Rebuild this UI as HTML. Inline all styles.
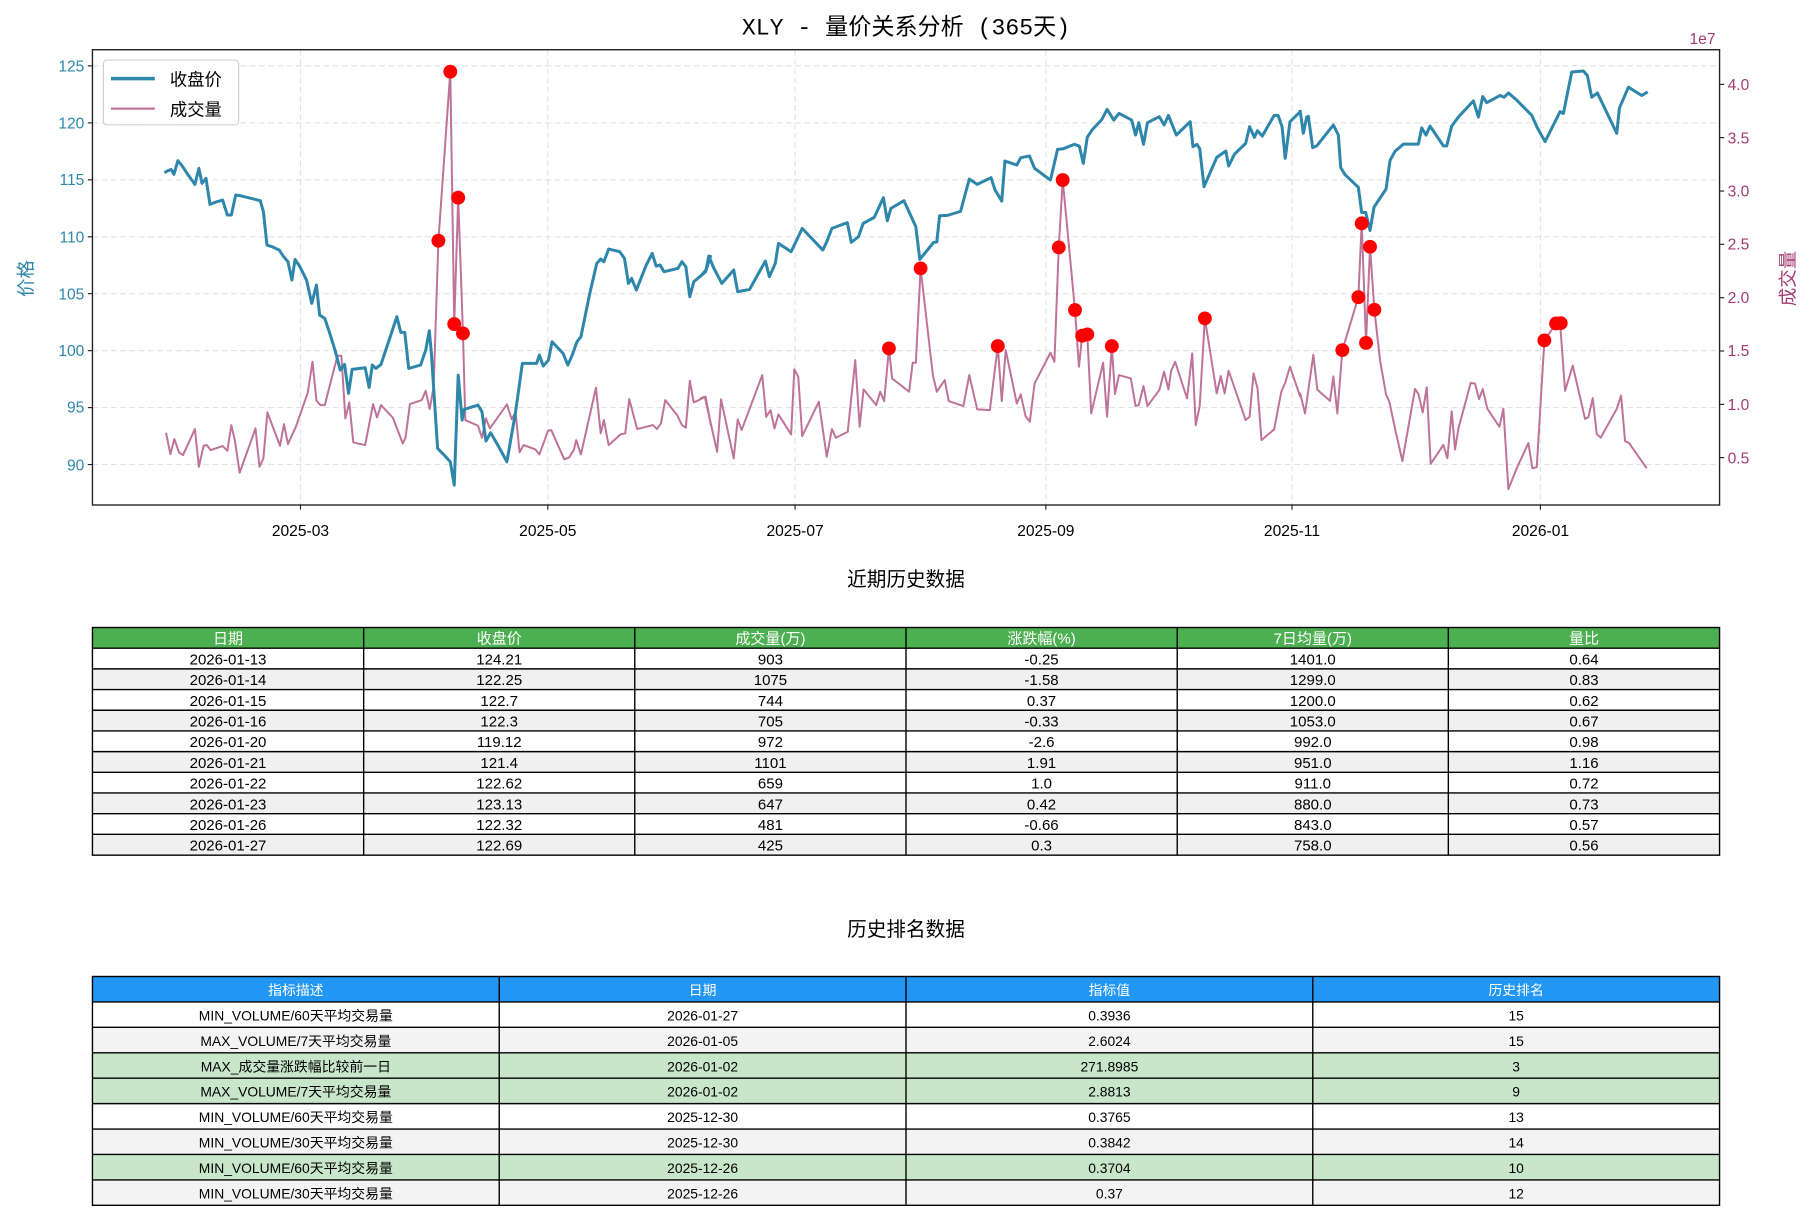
<!DOCTYPE html>
<html><head><meta charset="utf-8"><style>
html,body{margin:0;padding:0;background:#fff;}
svg{display:block;}
text{font-family:"Liberation Sans","Noto Sans CJK SC",sans-serif;}
.m{font-family:"Liberation Mono","Noto Sans CJK SC",monospace;}
</style></head><body>
<svg width="1812" height="1220" viewBox="0 0 1568 1055.7" xmlns="http://www.w3.org/2000/svg">
<rect width="1568" height="1056" fill="#fff"/>
<text x="784" y="30" font-size="20" text-anchor="middle" class="m">XLY - 量价关系分析 (365天)</text>
<!-- grid -->
<g stroke="#e3e3e3" stroke-width="1" stroke-dasharray="5,3">
<line x1="80" x2="1488" y1="57" y2="57"/><line x1="80" x2="1488" y1="106.3" y2="106.3"/><line x1="80" x2="1488" y1="155.6" y2="155.6"/><line x1="80" x2="1488" y1="204.9" y2="204.9"/><line x1="80" x2="1488" y1="254.1" y2="254.1"/><line x1="80" x2="1488" y1="303.4" y2="303.4"/><line x1="80" x2="1488" y1="352.7" y2="352.7"/><line x1="80" x2="1488" y1="402" y2="402"/>
<line y1="43" y2="437" x1="260" x2="260"/><line y1="43" y2="437" x1="474" x2="474"/><line y1="43" y2="437" x1="688" x2="688"/><line y1="43" y2="437" x1="905" x2="905"/><line y1="43" y2="437" x1="1118" x2="1118"/><line y1="43" y2="437" x1="1333" x2="1333"/>
</g>
<!-- volume -->
<g fill="none" stroke="#be7399" stroke-width="2" stroke-linejoin="round">
<g transform="translate(77.88,43.27) scale(0.3426,0.2885)"><polyline vector-effect="non-scaling-stroke" points="192,1148 203,1212 213,1167 225,1207 235,1215 265,1137 275,1250 287,1187 295,1185 305,1200 335,1188 347,1202 357,1125 366,1172 378,1268 418,1135 428,1250 438,1225 448,1087 480,1187 490,1122 500,1182 520,1130 550,1028 562,935 572,1052 582,1065 593,1065 625,917 635,917 645,1105 655,1057 665,1177 695,1185 715,1062 725,1102 735,1065 765,1103 790,1180 797,1163 808,1062 838,1050 848,1022 858,1077 868,1010 880,572 910,65 920,822 930,443 942,850 948,1110 980,1127 990,1163 1000,1105 1010,1135 1053,1063 1065,1107 1075,1087 1085,1207 1095,1185 1125,1198 1135,1213 1157,1142 1165,1140 1198,1228 1210,1222 1222,1200 1228,1170 1240,1213 1278,1013 1290,1150 1298,1110 1310,1185 1340,1153 1352,1150 1362,1047 1382,1137 1422,1125 1432,1137 1442,1120 1453,1050 1483,1095 1495,1125 1505,1133 1515,992 1525,1057 1555,1040 1568,1125"/></g>
<g transform="translate(605.8,43.27) scale(0.3426,0.2885)"><polyline vector-effect="non-scaling-stroke" points="0,1045 12,1040 43,1205 53,1048 85,1225 95,1108 105,1140 157,975 167,1100 178,1080 188,1135 198,1093 230,1153 238,958 248,980 258,1158 300,1055 320,1220 333,1137 343,1163 373,1145 392,930 403,1130 413,1018 445,1065 455,1025 465,1053 477,895 485,985 528,1025 537,938 545,938 557,655 588,975 598,1025 618,990 628,1053 665,1068 680,975 700,1078 732,1080 752,888 762,1053 772,900 800,1060 810,1033 822,1098 833,1115 845,1000 885,908 895,935 906,592 916,390 947,780 957,950 965,857 978,853 988,1090 1018,938 1028,1100 1040,888 1048,1032 1058,975 1088,985 1100,1068 1108,1065 1120,1008 1130,1068 1160,1020 1172,965 1183,1018 1190,962 1200,935 1230,1045 1243,910 1252,1125 1262,1068 1275,805 1305,1030 1315,978 1325,1030 1335,962 1378,1110 1388,1100 1398,970 1408,1015 1418,1170 1450,1138 1468,1025 1478,998 1490,950 1516,1040"/></g>
<g transform="translate(1124.96,0) scale(0.2885,0.3117)"><polyline vector-effect="non-scaling-stroke" points="0,1090 15,1148 40,985 52,1082 90,1113 100,1045 112,1148 127,972 175,825 185,620 198,952 210,685 223,860 240,1000 258,1095 268,1115 285,1190 307,1280 345,1080 355,1093 368,1145 380,1075 392,1288 430,1235 442,1272 455,1142 465,1248 475,1190 512,1063 525,1065 537,1108 548,1080 562,1135 598,1185 610,1135 625,1358 650,1300 685,1230 697,1300 710,1297 733,945 768,898 780,897 795,1085 818,1015 855,1163 865,1158 878,1105 890,1205 902,1215 950,1135 963,1098 975,1225 987,1230 1040,1300"/></g>
</g>
<!-- price -->
<g fill="none" stroke="#2E86AB" stroke-width="3" stroke-linejoin="round">
<g transform="translate(77.88,43.27) scale(0.3426,0.2885)"><polyline vector-effect="non-scaling-stroke" points="188,368 197,362 205,358 212,373 222,332 233,348 248,375 265,403 275,355 283,400 293,385 303,463 318,456 335,450 347,495 357,495 368,435 380,437 430,452 438,485 447,585 460,590 478,600 488,618 500,635 510,690 518,628 530,650 547,690 560,760 572,705 580,795 593,805 607,855 620,905 632,960 643,943 653,1030 662,958 695,953 705,1012 713,945 722,955 735,943 757,865 775,800 785,847 795,847 805,955 835,945 848,900 857,842 862,905 878,1195 897,1218 910,1235 920,1305 930,975 940,1110 945,1078 980,1065 990,1085 1000,1173 1012,1148 1030,1185 1053,1235 1075,1085 1092,940 1128,940 1135,915 1145,948 1158,930 1167,875 1195,910 1207,945 1218,915 1230,875 1240,860 1262,732 1280,640 1290,627 1298,635 1310,597 1338,605 1350,625 1360,700 1368,685 1380,720 1405,645 1420,610 1430,648 1440,645 1450,665 1485,655 1495,635 1505,650 1515,740 1525,695 1555,665 1568,615"/></g>
<g transform="translate(605.8,43.27) scale(0.3426,0.2885)"><polyline vector-effect="non-scaling-stroke" points="0,680 15,660 22,618 35,655 55,700 85,660 95,725 125,718 165,633 175,680 190,640 198,580 230,605 258,535 310,600 320,575 333,535 372,518 382,577 400,560 412,520 440,502 463,443 473,512 482,475 515,452 545,530 555,628 590,577 598,576 605,497 625,496 658,484 680,387 700,403 735,383 745,420 762,453 770,333 800,345 810,323 832,318 845,355 885,390 903,298 918,296 945,283 958,288 968,340 978,262 990,240 1015,208 1028,178 1045,210 1058,190 1090,210 1100,255 1108,218 1120,283 1130,218 1160,200 1172,225 1183,196 1203,255 1238,215 1245,290 1255,283 1262,296 1273,410 1305,322 1328,303 1335,348 1350,312 1378,280 1388,230 1400,262 1408,242 1420,258 1450,196 1460,196 1470,230 1478,325 1490,215 1516,185"/></g>
<g transform="translate(1124.96,0) scale(0.2885,0.3117)"><polyline vector-effect="non-scaling-stroke" points="0,305 10,370 20,325 25,323 38,410 50,405 100,347 115,375 122,465 135,485 175,520 185,590 197,590 210,640 222,575 258,525 270,445 285,420 310,400 355,400 365,355 378,375 390,350 430,405 440,405 455,350 475,325 520,280 535,325 548,268 560,285 600,265 612,270 625,258 650,278 695,320 712,355 735,393 780,310 790,315 815,200 850,197 862,210 875,270 892,258 950,370 958,300 985,242 1025,265 1043,255"/></g>
</g>
<!-- red dots -->
<g fill="#ff0000">
<g transform="translate(77.88,43.27) scale(0.3426,0.2885)">
<ellipse cx="880" cy="572" rx="17.5" ry="20.8"/><ellipse cx="910" cy="65" rx="17.5" ry="20.8"/><ellipse cx="920" cy="822" rx="17.5" ry="20.8"/><ellipse cx="930" cy="443" rx="17.5" ry="20.8"/><ellipse cx="942" cy="850" rx="17.5" ry="20.8"/></g>
<g transform="translate(605.8,43.27) scale(0.3426,0.2885)">
<ellipse cx="477" cy="895" rx="17.5" ry="20.8"/><ellipse cx="557" cy="655" rx="17.5" ry="20.8"/><ellipse cx="752" cy="888" rx="17.5" ry="20.8"/><ellipse cx="906" cy="592" rx="17.5" ry="20.8"/><ellipse cx="916" cy="390" rx="17.5" ry="20.8"/><ellipse cx="947" cy="780" rx="17.5" ry="20.8"/><ellipse cx="965" cy="857" rx="17.5" ry="20.8"/><ellipse cx="978" cy="853" rx="17.5" ry="20.8"/><ellipse cx="1040" cy="888" rx="17.5" ry="20.8"/><ellipse cx="1275" cy="805" rx="17.5" ry="20.8"/></g>
<g transform="translate(1124.96,0) scale(0.2885,0.3117)">
<ellipse cx="127" cy="972" rx="20.8" ry="19.2"/><ellipse cx="175" cy="825" rx="20.8" ry="19.2"/><ellipse cx="185" cy="620" rx="20.8" ry="19.2"/><ellipse cx="198" cy="952" rx="20.8" ry="19.2"/><ellipse cx="210" cy="685" rx="20.8" ry="19.2"/><ellipse cx="223" cy="860" rx="20.8" ry="19.2"/><ellipse cx="733" cy="945" rx="20.8" ry="19.2"/><ellipse cx="768" cy="898" rx="20.8" ry="19.2"/><ellipse cx="782" cy="897" rx="20.8" ry="19.2"/></g>
</g>
<!-- axes frame -->
<rect x="80" y="43" width="1408" height="394" fill="none" stroke="#222" stroke-width="1.2"/>
<!-- left ticks -->
<g stroke="#222" stroke-width="1"><line x1="76" x2="80" y1="57" y2="57"/><line x1="76" x2="80" y1="106.3" y2="106.3"/><line x1="76" x2="80" y1="155.6" y2="155.6"/><line x1="76" x2="80" y1="204.9" y2="204.9"/><line x1="76" x2="80" y1="254.1" y2="254.1"/><line x1="76" x2="80" y1="303.4" y2="303.4"/><line x1="76" x2="80" y1="352.7" y2="352.7"/><line x1="76" x2="80" y1="402" y2="402"/>
<line x1="1488" x2="1492" y1="73" y2="73"/><line x1="1488" x2="1492" y1="119.1" y2="119.1"/><line x1="1488" x2="1492" y1="165.3" y2="165.3"/><line x1="1488" x2="1492" y1="211.4" y2="211.4"/><line x1="1488" x2="1492" y1="257.6" y2="257.6"/><line x1="1488" x2="1492" y1="303.7" y2="303.7"/><line x1="1488" x2="1492" y1="349.9" y2="349.9"/><line x1="1488" x2="1492" y1="396" y2="396"/>
<line y1="437" y2="441" x1="260" x2="260"/><line y1="437" y2="441" x1="474" x2="474"/><line y1="437" y2="441" x1="688" x2="688"/><line y1="437" y2="441" x1="905" x2="905"/><line y1="437" y2="441" x1="1118" x2="1118"/><line y1="437" y2="441" x1="1333" x2="1333"/></g>
<g font-size="13.5" fill="#2E86AB" text-anchor="end">
<text x="73" y="62">125</text><text x="73" y="111">120</text><text x="73" y="160">115</text><text x="73" y="210">110</text><text x="73" y="259">105</text><text x="73" y="308">100</text><text x="73" y="357">95</text><text x="73" y="407">90</text></g>
<g font-size="13.5" fill="#A23B72" class="m">
<text x="1495" y="78">4.0</text><text x="1495" y="124">3.5</text><text x="1495" y="170">3.0</text><text x="1495" y="216">2.5</text><text x="1495" y="262">2.0</text><text x="1495" y="308">1.5</text><text x="1495" y="355">1.0</text><text x="1495" y="401">0.5</text>
<text x="1462" y="38">1e7</text></g>
<g font-size="13.5" fill="#000" text-anchor="middle" class="m">
<text x="260" y="464">2025-03</text><text x="474" y="464">2025-05</text><text x="688" y="464">2025-07</text><text x="905" y="464">2025-09</text><text x="1118" y="464">2025-11</text><text x="1333" y="464">2026-01</text></g>
<text transform="translate(28,241) rotate(-90)" font-size="16" fill="#2E86AB" text-anchor="middle">价格</text>
<text transform="translate(1553,241) rotate(-90)" font-size="16" fill="#A23B72" text-anchor="middle">成交量</text>
<!-- legend -->
<rect x="89.5" y="52" width="117" height="56" rx="3" fill="#fff" fill-opacity="0.85" stroke="#d0d0d0"/>
<line x1="96" x2="134" y1="68" y2="68" stroke="#2E86AB" stroke-width="3"/>
<line x1="96" x2="134" y1="94" y2="94" stroke="#be7399" stroke-width="2"/>
<text x="147" y="74" font-size="15">收盘价</text>
<text x="147" y="100" font-size="15">成交量</text>
<!-- table 1 -->
<text x="784" y="507" font-size="17" text-anchor="middle">近期历史数据</text>
<g>
<rect x="80" y="543" width="1408" height="17.9" fill="#4CAF50"/>
<rect x="80" y="578.8" width="1408" height="17.9" fill="#f0f0f0"/>
<rect x="80" y="614.6" width="1408" height="17.9" fill="#f0f0f0"/>
<rect x="80" y="650.4" width="1408" height="17.9" fill="#f0f0f0"/>
<rect x="80" y="686.2" width="1408" height="17.9" fill="#f0f0f0"/>
<rect x="80" y="722" width="1408" height="17.9" fill="#f0f0f0"/>
<g stroke="#000" stroke-width="1.2" fill="none">
<rect x="80" y="543" width="1408" height="197"/>
<line x1="80" x2="1488" y1="560.9" y2="560.9"/><line x1="80" x2="1488" y1="578.8" y2="578.8"/><line x1="80" x2="1488" y1="596.7" y2="596.7"/><line x1="80" x2="1488" y1="614.6" y2="614.6"/><line x1="80" x2="1488" y1="632.5" y2="632.5"/><line x1="80" x2="1488" y1="650.4" y2="650.4"/><line x1="80" x2="1488" y1="668.3" y2="668.3"/><line x1="80" x2="1488" y1="686.2" y2="686.2"/><line x1="80" x2="1488" y1="704.1" y2="704.1"/><line x1="80" x2="1488" y1="722" y2="722"/>
<line x1="314.7" x2="314.7" y1="543" y2="740"/><line x1="549.3" x2="549.3" y1="543" y2="740"/><line x1="784" x2="784" y1="543" y2="740"/><line x1="1018.7" x2="1018.7" y1="543" y2="740"/><line x1="1253.3" x2="1253.3" y1="543" y2="740"/></g>
<g font-size="13" text-anchor="middle" class="m">
<g fill="#fff"><text x="197.3" y="557">日期</text><text x="432" y="557">收盘价</text><text x="666.7" y="557">成交量(万)</text><text x="901.3" y="557">涨跌幅(%)</text><text x="1136" y="557">7日均量(万)</text><text x="1370.7" y="557">量比</text></g>
<g transform="translate(0,575)"><text x="197.3">2026-01-13</text><text x="432">124.21</text><text x="666.7">903</text><text x="901.3">-0.25</text><text x="1136">1401.0</text><text x="1370.7">0.64</text></g>
<g transform="translate(0,592.9)"><text x="197.3">2026-01-14</text><text x="432">122.25</text><text x="666.7">1075</text><text x="901.3">-1.58</text><text x="1136">1299.0</text><text x="1370.7">0.83</text></g>
<g transform="translate(0,610.8)"><text x="197.3">2026-01-15</text><text x="432">122.7</text><text x="666.7">744</text><text x="901.3">0.37</text><text x="1136">1200.0</text><text x="1370.7">0.62</text></g>
<g transform="translate(0,628.7)"><text x="197.3">2026-01-16</text><text x="432">122.3</text><text x="666.7">705</text><text x="901.3">-0.33</text><text x="1136">1053.0</text><text x="1370.7">0.67</text></g>
<g transform="translate(0,646.6)"><text x="197.3">2026-01-20</text><text x="432">119.12</text><text x="666.7">972</text><text x="901.3">-2.6</text><text x="1136">992.0</text><text x="1370.7">0.98</text></g>
<g transform="translate(0,664.5)"><text x="197.3">2026-01-21</text><text x="432">121.4</text><text x="666.7">1101</text><text x="901.3">1.91</text><text x="1136">951.0</text><text x="1370.7">1.16</text></g>
<g transform="translate(0,682.4)"><text x="197.3">2026-01-22</text><text x="432">122.62</text><text x="666.7">659</text><text x="901.3">1.0</text><text x="1136">911.0</text><text x="1370.7">0.72</text></g>
<g transform="translate(0,700.3)"><text x="197.3">2026-01-23</text><text x="432">123.13</text><text x="666.7">647</text><text x="901.3">0.42</text><text x="1136">880.0</text><text x="1370.7">0.73</text></g>
<g transform="translate(0,718.2)"><text x="197.3">2026-01-26</text><text x="432">122.32</text><text x="666.7">481</text><text x="901.3">-0.66</text><text x="1136">843.0</text><text x="1370.7">0.57</text></g>
<g transform="translate(0,736.1)"><text x="197.3">2026-01-27</text><text x="432">122.69</text><text x="666.7">425</text><text x="901.3">0.3</text><text x="1136">758.0</text><text x="1370.7">0.56</text></g>
</g></g>
<!-- table 2 -->
<text x="784" y="810" font-size="17" text-anchor="middle">历史排名数据</text>
<g>
<rect x="80" y="845" width="1408" height="22" fill="#2196F3"/>
<rect x="80" y="889" width="1408" height="22" fill="#f3f3f3"/>
<rect x="80" y="911" width="1408" height="44" fill="#c8e6c9"/>
<rect x="80" y="977" width="1408" height="22" fill="#f3f3f3"/>
<rect x="80" y="999" width="1408" height="22" fill="#c8e6c9"/>
<rect x="80" y="1021" width="1408" height="22" fill="#f3f3f3"/>
<g stroke="#000" stroke-width="1.2" fill="none">
<rect x="80" y="845" width="1408" height="198"/>
<line x1="80" x2="1488" y1="867" y2="867"/><line x1="80" x2="1488" y1="889" y2="889"/><line x1="80" x2="1488" y1="911" y2="911"/><line x1="80" x2="1488" y1="933" y2="933"/><line x1="80" x2="1488" y1="955" y2="955"/><line x1="80" x2="1488" y1="977" y2="977"/><line x1="80" x2="1488" y1="999" y2="999"/><line x1="80" x2="1488" y1="1021" y2="1021"/>
<line x1="432" x2="432" y1="845" y2="1043"/><line x1="784" x2="784" y1="845" y2="1043"/><line x1="1136" x2="1136" y1="845" y2="1043"/></g>
<g font-size="12" text-anchor="middle" class="m">
<g fill="#fff"><text x="256" y="861">指标描述</text><text x="608" y="861">日期</text><text x="960" y="861">指标值</text><text x="1312" y="861">历史排名</text></g>
<g transform="translate(0,883)"><text x="256">MIN_VOLUME/60天平均交易量</text><text x="608">2026-01-27</text><text x="960">0.3936</text><text x="1312">15</text></g>
<g transform="translate(0,905)"><text x="256">MAX_VOLUME/7天平均交易量</text><text x="608">2026-01-05</text><text x="960">2.6024</text><text x="1312">15</text></g>
<g transform="translate(0,927)"><text x="256">MAX_成交量涨跌幅比较前一日</text><text x="608">2026-01-02</text><text x="960">271.8985</text><text x="1312">3</text></g>
<g transform="translate(0,949)"><text x="256">MAX_VOLUME/7天平均交易量</text><text x="608">2026-01-02</text><text x="960">2.8813</text><text x="1312">9</text></g>
<g transform="translate(0,971)"><text x="256">MIN_VOLUME/60天平均交易量</text><text x="608">2025-12-30</text><text x="960">0.3765</text><text x="1312">13</text></g>
<g transform="translate(0,993)"><text x="256">MIN_VOLUME/30天平均交易量</text><text x="608">2025-12-30</text><text x="960">0.3842</text><text x="1312">14</text></g>
<g transform="translate(0,1015)"><text x="256">MIN_VOLUME/60天平均交易量</text><text x="608">2025-12-26</text><text x="960">0.3704</text><text x="1312">10</text></g>
<g transform="translate(0,1037)"><text x="256">MIN_VOLUME/30天平均交易量</text><text x="608">2025-12-26</text><text x="960">0.37</text><text x="1312">12</text></g>
</g></g>
</svg>
</body></html>
